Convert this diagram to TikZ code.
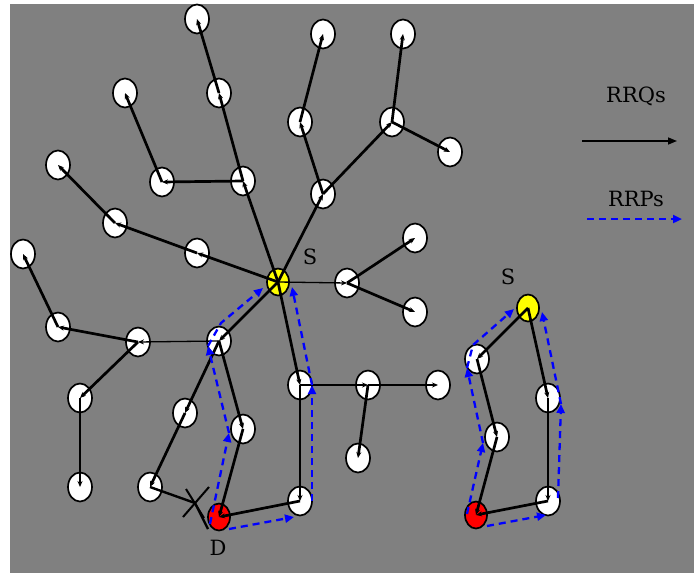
\documentclass[tikz,border=0pt]{standalone}
\usepackage{fontspec}
\setmainfont{Liberation Serif}
\newfontfamily\lblfont{DejaVu Serif}
\usetikzlibrary{shapes.geometric,arrows.meta}
\definecolor{bggray}{HTML}{808080}
\definecolor{rrpblue}{HTML}{0000FF}
\definecolor{srcyellow}{HTML}{FFFF00}
\definecolor{dstred}{HTML}{FF0000}
\tikzset{
  wnode/.style={ellipse, draw=black, line width=1.7pt, fill=white, minimum width=24pt, minimum height=29pt, inner sep=0pt},
  snode/.style={wnode, fill=srcyellow, minimum width=22pt, minimum height=27pt},
  dnode/.style={wnode, fill=dstred, minimum width=22pt, minimum height=27pt},
  thk/.style={line width=2.7pt, -{Stealth[length=6pt,width=5pt]}},
  thn/.style={line width=1.3pt, -{Stealth[length=6pt,width=5pt]}},
  rrp/.style={draw=rrpblue, line width=2.3pt, dash pattern=on 7pt off 5pt, -{Triangle[length=9pt,width=8pt]}},
  lbl/.style={font=\lblfont\fontsize{21}{21}\selectfont, inner sep=0pt}
}
\begin{document}
\begin{tikzpicture}[x=1pt,y=-1pt]
\useasboundingbox (0,0) rectangle (694,573);
\fill[bggray] (10,4) rectangle (694,573);
% nodes, left graph
\node[wnode] (n1) at (197,19) {};
\node[wnode] (n2) at (219,93) {};
\node[wnode] (n3) at (243,181) {};
\node[wnode] (n4) at (162,182) {};
\node[wnode] (n5) at (125,93) {};
\node[wnode] (n6) at (58,165) {};
\node[wnode] (n7) at (115,223) {};
\node[wnode] (n8) at (197,253) {};
\node[snode] (S) at (278,282) {};
\node[wnode] (n10) at (323,34) {};
\node[wnode] (n11) at (300,122) {};
\node[wnode] (n12) at (323,194) {};
\node[wnode] (n13) at (403,34) {};
\node[wnode] (n14) at (392,122) {};
\node[wnode] (n15) at (450,152) {};
\node[wnode] (n16) at (347,283) {};
\node[wnode] (n17) at (415,238) {};
\node[wnode] (n18) at (415,312) {};
\node[wnode] (n19) at (23,254) {};
\node[wnode] (n20) at (58,327) {};
\node[wnode] (n21) at (138,342) {};
\node[wnode] (n22) at (219,341) {};
\node[wnode] (n23) at (80,398) {};
\node[wnode] (n24) at (80,487) {};
\node[wnode] (n25) at (185,413) {};
\node[wnode] (n26) at (243,429) {};
\node[wnode] (n27) at (150,487) {};
\node[dnode] (D) at (219,517) {};
\node[wnode] (n29) at (300,501) {};
\node[wnode] (n30) at (300,385) {};
\node[wnode] (n31) at (368,385) {};
\node[wnode] (n32) at (438,385) {};
\node[wnode] (n33) at (358,458) {};
% right graph
\node[snode] (S2) at (528,308) {};
\node[wnode] (r1) at (477,359) {};
\node[wnode] (r2) at (548,398) {};
\node[wnode] (r3) at (497,437) {};
\node[wnode] (r4) at (548,501) {};
\node[dnode] (D2) at (476,515) {};
% labels
\node[lbl] (ls1) at (310,257) {S};
\node[lbl] (ls2) at (508,277) {S};
\node[lbl] (ld) at (218,548) {D};
\node[lbl] (lq) at (636,96) {RRQs};
\node[lbl] (lp) at (636,199) {RRPs};
% black edges (RRQs)
\draw[thk] (S.center) -- (n3.center);
\draw[thk] (n3.center) -- (n2.center);
\draw[thk] (n2.center) -- (n1.center);
\draw[thk] (n3.center) -- (n4.center);
\draw[thk] (n4.center) -- (n5.center);
\draw[thk] (S.center) -- (n8.center);
\draw[thk] (n8.center) -- (n7.center);
\draw[thk] (n7.center) -- (n6.center);
\draw[thk] (S.center) -- (n12.center);
\draw[thk] (n12.center) -- (n11.center);
\draw[thk] (n11.center) -- (n10.center);
\draw[thk] (n12.center) -- (n14.center);
\draw[thk] (n14.center) -- (n13.center);
\draw[thk] (n14.center) -- (n15.center);
\draw[thn] (S.center) -- (n16.center);
\draw[thk] (n16.center) -- (n17.center);
\draw[thk] (n16.center) -- (n18.center);
\draw[thk] (S.center) -- (n22.center);
\draw[thn] (n22.center) -- (n21.center);
\draw[thk] (n21.center) -- (n20.center);
\draw[thk] (n20.center) -- (n19.center);
\draw[thk] (n21.center) -- (n23.center);
\draw[thn] (n23.center) -- (n24.center);
\draw[thk] (n22.center) -- (n25.center);
\draw[thk] (n25.center) -- (n27.center);
\draw[thk] (n22.center) -- (n26.center);
\draw[thk] (n26.center) -- (D.center);
\draw[thk] (S.center) -- (n30.center);
\draw[thn] (n30.center) -- (n29.center);
\draw[thk] (n29.center) -- (D.center);
\draw[thk] (n30.center) -- (n31.center);
\draw[thn] (n31.center) -- (n32.center);
\draw[thk] (n31.center) -- (n33.center);
\draw[thk] (S2.center) -- (r1.center);
\draw[thk] (r1.center) -- (r3.center);
\draw[thk] (r3.center) -- (D2.center);
\draw[thk] (S2.center) -- (r2.center);
\draw[thn] (r2.center) -- (r4.center);
\draw[thk] (r4.center) -- (D2.center);
% broken link with X
\coordinate (xm) at (195,503);
\coordinate (xe) at (208,529);
\coordinate (xa1) at (183,517);
\coordinate (xa2) at (209,487);
\coordinate (xb1) at (186,489);
\coordinate (xb2) at (204,518);
\draw[line width=2.4pt] (n27.center) -- (xm) -- (xe);
\draw[line width=2pt] (xa1) -- (xa2);
\draw[line width=2pt] (xb1) -- (xb2);
% RRPs, left graph
\coordinate (a1) at (210,524);
\coordinate (a2) at (229,433);
\coordinate (a3) at (208,346);
\coordinate (a4) at (221,323);
\coordinate (a5) at (263,288);
\draw[rrp] (a1) -- (a2);
\draw[rrp] (a2) -- (a3);
\draw[rrp] (a3) -- (a4) -- (a5);
\coordinate (b1) at (229,529);
\coordinate (b2) at (294,517);
\coordinate (b3) at (312,501);
\coordinate (b4) at (312,385);
\coordinate (b5) at (292,287);
\draw[rrp] (b1) -- (b2);
\draw[rrp] (b3) -- (b4);
\draw[rrp] (b4) -- (b5);
% RRPs, right graph
\coordinate (c1) at (467,514);
\coordinate (c2) at (483,443);
\coordinate (c3) at (467,368);
\coordinate (c4) at (473,345);
\coordinate (c5) at (514,309);
\draw[rrp] (c1) -- (c2);
\draw[rrp] (c2) -- (c3);
\draw[rrp] (c3) -- (c4) -- (c5);
\coordinate (d1) at (487,526);
\coordinate (d2) at (546,515);
\coordinate (d3) at (558,498);
\coordinate (d4) at (561,404);
\coordinate (d5) at (542,312);
\draw[rrp] (d1) -- (d2);
\draw[rrp] (d3) -- (d4);
\draw[rrp] (d4) -- (d5);
% legend
\coordinate (q1) at (582,141);
\coordinate (q2) at (677,141);
\draw[line width=1.5pt, -{Triangle[length=9pt,width=7pt]}] (q1) -- (q2);
\coordinate (p1) at (587,219);
\coordinate (p2) at (682,219);
\draw[rrp] (p1) -- (p2);
\end{tikzpicture}
\end{document}
